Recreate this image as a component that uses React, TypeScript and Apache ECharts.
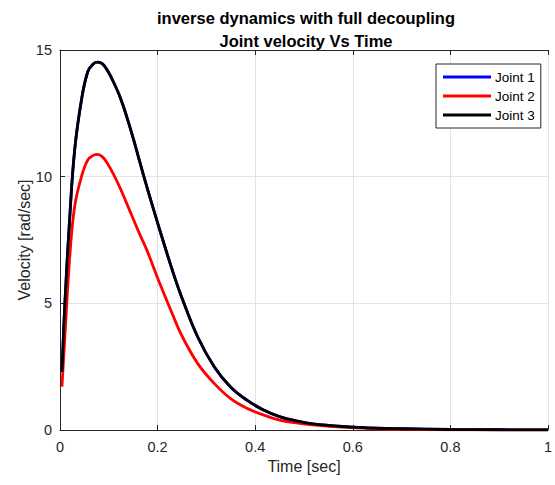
import React, { useEffect, useRef } from "react";
import * as echarts from "echarts";

const titleLines = ["inverse dynamics with full decoupling", "Joint velocity Vs Time"];
const seriesNames = ["Joint 1", "Joint 2", "Joint 3"];
const time = [0.004, 0.01, 0.02, 0.03, 0.044, 0.057, 0.068, 0.077, 0.087, 0.097, 0.11, 0.124, 0.137, 0.151, 0.164, 0.178, 0.205, 0.232, 0.249, 0.282, 0.316, 0.349, 0.383, 0.417, 0.45, 0.484, 0.518, 0.585, 0.65, 0.7, 0.8, 0.9, 1.0];
const joint1 = [2.3, 5.0, 8.4, 11.05, 13.03, 14.15, 14.45, 14.52, 14.45, 14.2, 13.72, 13.1, 12.35, 11.45, 10.55, 9.6, 7.86, 6.2, 5.26, 3.68, 2.5, 1.71, 1.18, 0.79, 0.53, 0.36, 0.24, 0.13, 0.07, 0.05, 0.02, 0.01, 0.005];
const joint2 = [1.71, 3.68, 6.84, 8.82, 10.0, 10.66, 10.84, 10.88, 10.78, 10.53, 10.08, 9.52, 8.93, 8.29, 7.7, 7.1, 5.76, 4.5, 3.75, 2.63, 1.84, 1.25, 0.86, 0.59, 0.39, 0.28, 0.2, 0.1, 0.05, 0.03, 0.01, 0.005, 0.002];
const joint3 = [2.3, 5.0, 8.4, 11.05, 13.03, 14.15, 14.45, 14.52, 14.45, 14.2, 13.72, 13.1, 12.35, 11.45, 10.55, 9.6, 7.86, 6.2, 5.26, 3.68, 2.5, 1.71, 1.18, 0.79, 0.53, 0.36, 0.24, 0.13, 0.07, 0.05, 0.02, 0.01, 0.005];
const colors = ["#0000ff", "#ff0000", "#000000"];
const xTicks = [0, 0.2, 0.4, 0.6, 0.8, 1];
const yTicks = [0, 5, 10, 15];

const FONT = "'Liberation Sans', Arial, Helvetica, sans-serif";
const AX = "#262626";

export default function App() {
  const ref = useRef<HTMLDivElement>(null);
  useEffect(() => {
    if (!ref.current) return;
    const chart = echarts.init(ref.current, undefined, { renderer: "svg" });
    const allValues = [joint1, joint2, joint3];
    const axisCommon = {
      axisLine: { show: true, lineStyle: { color: AX, width: 1 } },
      axisTick: { show: true, inside: true, length: 5, lineStyle: { color: AX, width: 1 } },
    };
    chart.setOption({
      animation: false,
      backgroundColor: "#ffffff",
      title: {
        text: titleLines.join("\n"),
        left: 306,
        top: 6,
        padding: 0,
        textAlign: "center",
        textStyle: { fontFamily: FONT, fontSize: 16.5, fontWeight: "bold", color: "#000", lineHeight: 23 },
      },
      legend: {
        orient: "vertical",
        left: 436,
        top: 64,
        padding: [6, 6, 6, 7],
        itemGap: 5,
        itemWidth: 48,
        itemHeight: 3,
        icon: "rect",
        borderColor: "#262626",
        borderWidth: 1,
        backgroundColor: "#ffffff",
        textStyle: { fontFamily: FONT, fontSize: 13.5, color: "#000", padding: [0, 0, 0, -1] },
        data: seriesNames,
      },
      grid: { left: 60, top: 50, width: 496, height: 380, containLabel: false },
      xAxis: [
        {
          type: "value",
          min: 0,
          max: 1,
          interval: 0.2,
          name: "Time [sec]",
          nameLocation: "middle",
          nameGap: 28,
          nameMoveOverlap: false,
          nameTextStyle: { fontFamily: FONT, fontSize: 16, color: AX },
          ...axisCommon,
          axisLabel: {
            margin: 9,
            fontFamily: FONT,
            fontSize: 14.5,
            color: AX,
            formatter: (v: number) => (xTicks.includes(Math.round(v * 10) / 10) ? String(Math.round(v * 10) / 10) : ""),
          },
          splitLine: { show: true, lineStyle: { color: "#e3e3e3", width: 1 } },
        },
        {
          type: "value",
          position: "top",
          min: 0,
          max: 1,
          interval: 0.2,
          ...axisCommon,
          axisLabel: { show: false },
          splitLine: { show: false },
        },
      ],
      yAxis: {
        type: "value",
        min: 0,
        max: 15,
        interval: 5,
        name: "Velocity [rad/sec]",
        nameLocation: "middle",
        nameGap: 28,
        nameMoveOverlap: false,
        nameTextStyle: { fontFamily: FONT, fontSize: 16, color: AX },
        ...axisCommon,
        axisLabel: {
          margin: 8,
          fontFamily: FONT,
          fontSize: 14.5,
          color: AX,
          formatter: (v: number) => (yTicks.includes(v) ? String(v) : ""),
        },
        splitLine: { show: true, lineStyle: { color: "#e3e3e3", width: 1 } },
      },
      series: seriesNames.map((name, i) => ({
        name,
        type: "line",
        xAxisIndex: 0,
        data: time.map((t, k) => [t, allValues[i][k]]),
        showSymbol: false,
        symbol: "none",
        smooth: 0.4,
        lineStyle: { color: colors[i], width: 2.8 },
        itemStyle: { color: colors[i] },
        z: 2 + i,
      })),
    });
    return () => chart.dispose();
  }, []);
  return (
    <div
      ref={ref}
      style={{ position: "fixed", left: 0, top: 0, width: 555, height: 485, background: "#fff" }}
    />
  );
}
